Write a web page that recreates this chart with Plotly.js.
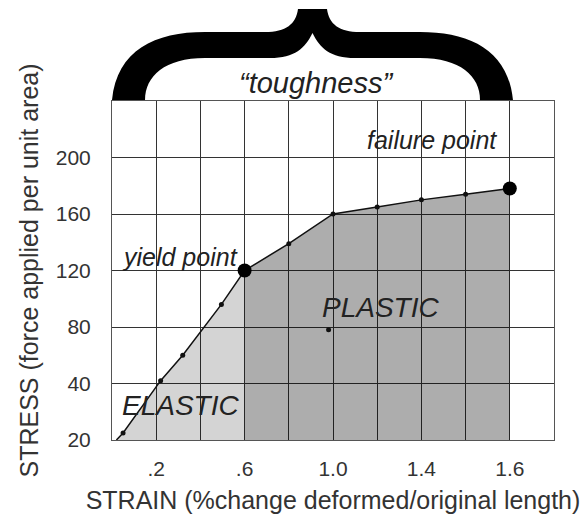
<!DOCTYPE html>
<html>
<head>
<meta charset="utf-8">
<script src="https://cdn.plot.ly/plotly-3.0.1.min.js"></script>
<style>html,body{margin:0;padding:0;background:#fff;}#chart{width:587px;height:516px;}</style>
</head>
<body>
<div id="chart"></div>
<script>
// ---- data ----
const strain = [0.02, 0.05, 0.22, 0.32, 0.495, 0.6, 0.8, 1.0, 1.2, 1.4, 1.6, 1.8];
const stress = [0, 5, 42, 60, 96, 120, 139, 160, 165, 170, 174, 178];
const yieldIndex = 5;
const failureIndex = 11;
const strayPointX = [0.98];
const strayPointY = [78];
const xTickVals = [0.2, 0.4, 0.6, 0.8, 1.0, 1.2, 1.4, 1.6, 1.8];
const xTickText = ['.2', '', '.6', '', '1.0', '', '1.4', '', '1.6'];
const yTickVals = [0, 40, 80, 120, 160, 200];
const yTickText = ['20', '40', '80', '120', '160', '200'];
const labels = {
  yield: 'yield point', failure: 'failure point',
  plastic: 'PLASTIC', elastic: 'ELASTIC', toughness: '\u201Ctoughness\u201D'
};

// ---- derived series ----
const yX = strain[yieldIndex];
const elasticX = [], elasticY = [], plasticX = [], plasticY = [];
strain.forEach((x, i) => {
  if (x <= yX) { elasticX.push(x); elasticY.push(stress[i]); }
  if (x >= yX) { plasticX.push(x); plasticY.push(stress[i]); }
});
const smallX = strain.slice(1).filter((_, i) => i + 1 !== yieldIndex && i + 1 !== failureIndex);
const smallY = stress.slice(1).filter((_, i) => i + 1 !== yieldIndex && i + 1 !== failureIndex);

const FONT = 'Liberation Sans, Arial, sans-serif';

const traces = [
  { x: elasticX, y: elasticY, mode: 'none', fill: 'tozeroy', fillcolor: 'rgba(0,0,0,0.17)', hoverinfo: 'skip' },
  { x: plasticX, y: plasticY, mode: 'none', fill: 'tozeroy', fillcolor: 'rgba(0,0,0,0.32)', hoverinfo: 'skip' },
  { x: strain, y: stress, mode: 'lines', line: { color: '#111', width: 1.5 } },
  { x: smallX.concat(strayPointX), y: smallY.concat(strayPointY), mode: 'markers', marker: { color: '#111', size: 5 } },
  { x: [strain[yieldIndex], strain[failureIndex]], y: [stress[yieldIndex], stress[failureIndex]],
    mode: 'markers', marker: { color: '#000', size: 14 } }
];

// brace decoration (pixel outline mapped into paper space)
const L = 112, T = 101, W = 442, H = 339;
function P(x, y) { return ((x - L) / W).toFixed(4) + ',' + ((T + H - y) / H).toFixed(4); }
const brace = 'M' + P(112,100) + ' C' + P(117,50) + ' ' + P(155,32) + ' ' + P(205,32) +
  ' L' + P(265,32) + ' C' + P(286,32) + ' ' + P(296,24) + ' ' + P(298,9) +
  ' L' + P(327,9) + ' C' + P(329,24) + ' ' + P(339,32) + ' ' + P(360,32) +
  ' L' + P(420,32) + ' C' + P(470,32) + ' ' + P(508,50) + ' ' + P(513,100) +
  ' L' + P(480,100) + ' C' + P(480,76) + ' ' + P(460,58) + ' ' + P(420,58) +
  ' L' + P(355,58) + ' C' + P(330,58) + ' ' + P(320,48) + ' ' + P(312.5,33) +
  ' C' + P(305,48) + ' ' + P(295,58) + ' ' + P(270,58) +
  ' L' + P(205,58) + ' C' + P(165,58) + ' ' + P(145,76) + ' ' + P(145,100) + ' Z';

const annFont = (s) => ({ family: FONT, size: s, color: '#222' });
const layout = {
  width: 587, height: 516,
  margin: { l: L, r: 587 - L - W, t: T, b: 516 - T - H },
  paper_bgcolor: '#fff', plot_bgcolor: '#fff',
  showlegend: false,
  font: { family: FONT, color: '#333' },
  xaxis: {
    range: [0, 2.0], tickmode: 'array', tickvals: xTickVals, ticktext: xTickText,
    showgrid: true, gridcolor: '#333', gridwidth: 1, zeroline: false,
    showline: true, mirror: true, linecolor: '#555', linewidth: 1,
    ticks: 'outside', ticklen: 10, tickcolor: 'rgba(0,0,0,0)',
    tickfont: { family: FONT, size: 21, color: '#333' },
    title: { text: 'STRAIN (%change deformed/original length)', font: { family: FONT, size: 25, color: '#333' }, standoff: 12 },
    fixedrange: true
  },
  yaxis: {
    range: [0, 240], tickmode: 'array', tickvals: yTickVals, ticktext: yTickText,
    showgrid: true, gridcolor: '#333', gridwidth: 1, zeroline: false,
    showline: true, mirror: true, linecolor: '#555', linewidth: 1,
    ticks: 'outside', ticklen: 16, tickcolor: 'rgba(0,0,0,0)',
    tickfont: { family: FONT, size: 21, color: '#333' },
    title: { text: 'STRESS (force applied per unit area)', font: { family: FONT, size: 25, color: '#333' }, standoff: 10 },
    fixedrange: true
  },
  shapes: [{ type: 'path', xref: 'paper', yref: 'paper', path: brace, fillcolor: '#000', line: { width: 0 }, layer: 'above' }],
  annotations: [
    { x: 0.308, y: 129.5, xref: 'x', yref: 'y', text: '<i>' + labels.yield + '</i>', showarrow: false, font: annFont(25) },
    { x: 1.45, y: 212.5, xref: 'x', yref: 'y', text: '<i>' + labels.failure + '</i>', showarrow: false, font: annFont(25) },
    { x: 1.213, y: 94, xref: 'x', yref: 'y', text: '<i>' + labels.plastic + '</i>', showarrow: false, font: annFont(28) },
    { x: 0.312, y: 24.7, xref: 'x', yref: 'y', text: '<i>' + labels.elastic + '</i>', showarrow: false, font: annFont(28) },
    { x: 0.4615, y: 1.105, xref: 'paper', yref: 'paper', text: '<i>' + labels.toughness + '</i>', showarrow: false, font: annFont(29) }
  ]
};

Plotly.newPlot('chart', traces, layout, { displayModeBar: false, staticPlot: true });
</script>
</body>
</html>
